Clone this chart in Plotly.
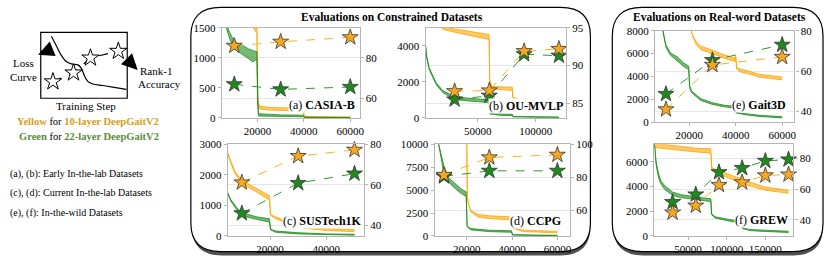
import plotly.graph_objects as go

W, H = 830, 261
FONT = "Liberation Serif"
ORANGE = "#FFA500"
GREEN = "#1a8c1a"
ORANGE_FILL = "rgba(255,165,0,0.6)"
GREEN_FILL = "rgba(26,140,26,0.6)"
STAR_OR = "#F7A823"
STAR_GR = "#1E8A1E"

# ---------------- data ----------------
# (a) CASIA-B
A_STAR_X = [10000, 30000, 60000]
A_ACC_10 = [85.8, 87.8, 90.0]
A_ACC_22 = [66.9, 64.4, 65.6]
A_G_X = [6600, 8000, 10000, 12000, 14000, 16000, 18000, 19800, 20000, 20400, 30000, 39800, 40200, 60000]
A_G_LO = [1500, 1320, 1150, 1090, 1040, 990, 930, 980, 300, 30, 25, 20, 5, 3]
A_G_HI = [1550, 1420, 1280, 1220, 1200, 1150, 1120, 1100, 300, 70, 50, 45, 12, 8]
A_Y_X = [15000, 19000, 19800, 20100, 21000, 25000, 30000, 35000, 39800, 40100, 45000, 60000]
A_Y_LO = [1700, 1450, 1400, 230, 150, 130, 125, 120, 115, 20, 12, 8]
A_Y_HI = [1700, 1600, 1560, 260, 200, 175, 170, 165, 160, 30, 20, 15]

# (b) OU-MVLP
B_STAR_X = [30000, 60000, 90000, 120000]
B_ACC_10 = [86.6, 86.7, 91.9, 92.2]
B_ACC_22 = [85.5, 86.0, 91.5, 91.3]
B_G_X = [5000, 6000, 8000, 10000, 14000, 20000, 30000, 40000, 50000, 59800, 60300, 70000, 79800, 80300, 100000, 120000]
B_G_LO = [4000, 3300, 2700, 2400, 1850, 1400, 1020, 950, 890, 850, 220, 140, 130, 60, 40, 30]
B_G_HI = [4000, 3400, 2800, 2500, 1950, 1500, 1200, 1100, 1060, 1000, 240, 230, 210, 80, 60, 45]
B_Y_X = [10000, 18000, 20000, 30000, 40000, 50000, 59800, 60300, 62000, 70000, 79800, 80300, 85000, 100000, 120000]
B_Y_LO = [5600, 5050, 4900, 4750, 4600, 4470, 4350, 2000, 1600, 1550, 1520, 1100, 950, 850, 780]
B_Y_HI = [5600, 5200, 5050, 4930, 4820, 4700, 4620, 2100, 1750, 1720, 1700, 1150, 1050, 960, 920]

# (c) SUSTech1K
C_STAR_X = [10000, 30000, 50000]
C_ACC_10 = [61.1, 74.2, 77.3]
C_ACC_22 = [45.8, 60.8, 65.5]
C_G_X = [5000, 6000, 8000, 10000, 15000, 19800, 20200, 22000, 30000, 40000, 50000]
C_G_LO = [1410, 1150, 880, 660, 550, 450, 200, 120, 65, 35, 25]
C_G_HI = [1410, 1200, 950, 760, 630, 560, 220, 160, 105, 65, 55]
C_Y_X = [5000, 6000, 7500, 10000, 15000, 19800, 20200, 22000, 25000, 29000, 30500, 32000, 40000, 50000]
C_Y_LO = [2720, 2400, 2050, 1720, 1450, 1170, 680, 560, 460, 360, 330, 250, 180, 140]
C_Y_HI = [2720, 2450, 2120, 1820, 1570, 1320, 700, 620, 520, 440, 420, 300, 240, 210]

# (d) CCPG
D_STAR_X = [10000, 30000, 60000]
D_ACC_10 = [81.5, 92.1, 93.7]
D_ACC_22 = [80.6, 84.0, 84.0]
D_G_X = [7500, 8500, 10000, 12000, 15000, 17500, 19800, 20200, 22000, 30000, 39800, 40200, 50000, 60000]
D_G_LO = [10200, 8900, 6800, 5900, 5150, 4650, 4300, 1000, 650, 470, 400, 100, 40, 20]
D_G_HI = [10200, 9200, 7600, 6350, 5650, 5150, 4800, 1050, 800, 620, 560, 130, 90, 70]
D_Y_X = [10000, 19900, 20050, 20300, 21000, 22000, 25000, 30000, 39800, 40200, 45000, 50000, 60000]
D_Y_LO = [14000, 12000, 10500, 4200, 3300, 2600, 2050, 1900, 1750, 850, 480, 420, 330]
D_Y_HI = [14000, 12000, 10500, 4200, 3300, 2750, 2350, 2200, 2080, 950, 620, 560, 500]

# (e) Gait3D
E_STAR_X = [10000, 30000, 60000]
E_ACC_10 = [41.1, 63.1, 67.1]
E_ACC_22 = [48.7, 65.5, 73.1]
E_G_X = [8500, 9500, 10000, 12000, 15000, 17500, 19800, 20200, 21000, 22000, 25000, 30000, 35000, 39800, 40200, 45000, 50000, 60000]
E_G_LO = [8200, 7100, 6550, 5850, 5300, 4900, 4600, 3000, 2600, 2400, 1900, 1550, 1350, 1220, 800, 620, 500, 370]
E_G_HI = [8200, 7300, 6750, 6050, 5700, 5200, 4900, 3200, 2750, 2550, 2050, 1700, 1480, 1390, 850, 720, 600, 470]
E_Y_X = [20500, 21500, 23000, 25000, 30000, 35000, 39700, 40000, 40400, 42000, 45000, 50000, 60000]
E_Y_LO = [8300, 7500, 6800, 6350, 6000, 5600, 5300, 5700, 4650, 4400, 4250, 3950, 3700]
E_Y_HI = [8300, 7600, 7050, 6650, 6300, 5900, 5600, 5900, 4800, 4650, 4500, 4200, 3950]

# (f) GREW
F_STAR_X = [30000, 60000, 90000, 120000, 150000, 180000]
F_ACC_10 = [44.8, 49.3, 62.8, 64.5, 69.0, 69.6]
F_ACC_22 = [51.6, 56.6, 71.1, 73.8, 78.5, 79.4]
F_G_X = [6500, 7500, 8500, 10000, 12000, 15000, 20000, 30000, 40000, 60000, 79500, 80500, 85000, 100000, 119500, 120500, 130000, 150000, 180000]
F_G_LO = [7500, 6500, 5900, 5300, 4700, 4200, 3750, 3300, 3100, 2950, 2780, 1720, 1450, 1250, 1000, 600, 430, 360, 280]
F_G_HI = [7500, 6700, 6100, 5600, 5000, 4450, 4050, 3550, 3350, 3150, 3000, 1800, 1550, 1370, 1150, 640, 520, 460, 380]
F_Y_X = [6500, 20000, 40000, 60000, 79500, 80500, 85000, 100000, 120000, 135000, 150000, 180000]
F_Y_LO = [7150, 7050, 6950, 6800, 6700, 5450, 5150, 4750, 4250, 3950, 3700, 3450]
F_Y_HI = [7450, 7400, 7250, 7100, 7050, 5550, 5400, 5050, 4600, 4250, 3950, 3700]

# tick values
A_XT, A_LT, A_RT = [20000, 40000, 60000], [0, 500, 1000, 1500], [60, 80]
B_XT, B_LT, B_RT = [50000, 100000], [0, 2000, 4000], [85, 90, 95]
C_XT, C_LT, C_RT = [20000, 40000], [0, 1000, 2000, 3000], [40, 60, 80]
D_XT, D_LT, D_RT = [20000, 40000, 60000], [0, 2500, 5000, 7500, 10000], [60, 80, 100]
E_XT, E_LT, E_RT = [20000, 40000, 60000], [0, 2000, 4000, 6000, 8000], [40, 60, 80]
F_XT, F_LT, F_RT = [50000, 100000, 150000], [0, 2000, 4000, 6000], [40, 60, 80]

LABELS = ["(a) <b>CASIA-B</b>", "(b) <b>OU-MVLP</b>", "(c) <b>SUSTech1K</b>",
          "(d) <b>CCPG</b>", "(e) <b>Gait3D</b>", "(f) <b>GREW</b>"]

# illustration (unitless box coordinates 0..100)
ILL_CURVE_X = [12.3, 18.0, 23.8, 29.5, 35.3, 42.9, 46.8, 50.6, 54.4, 60.1, 71.6, 83.1, 98.9]
ILL_CURVE_Y = [94.2, 79.7, 65.2, 55.7, 52.2, 50.7, 45.9, 33.9, 25.7, 21.7, 19.4, 17.0, 13.6]
ILL_STAR_X = [14.1, 37.9, 57.5, 89.7]
ILL_STAR_Y = [25.2, 38.7, 61.4, 71.6]

# ---------------- layout config (pixels) ----------------
PANELS = [
    dict(dom=(223.3, 361.7, 22.7, 117.3), xr=(4700, 64000), yl=(0, 1500.5), yr=(50.4, 94.75), lab=(358, 103.5),
         sx=A_STAR_X, a10=A_ACC_10, a22=A_ACC_22, g=(A_G_X, A_G_LO, A_G_HI), y=(A_Y_X, A_Y_LO, A_Y_HI), t=(A_XT, A_LT, A_RT)),
    dict(dom=(428.3, 569.3, 22.7, 117.3), xr=(5100, 126000), yl=(0, 5000), yr=(83.07, 95.02), lab=(567, 105),
         sx=B_STAR_X, a10=B_ACC_10, a22=B_ACC_22, g=(B_G_X, B_G_LO, B_G_HI), y=(B_Y_X, B_Y_LO, B_Y_HI), t=(B_XT, B_LT, B_RT)),
    dict(dom=(229.3, 366, 145, 241), xr=(5050, 53300), yl=(0, 3000.5), yr=(34.6, 80.05), lab=(365, 225),
         sx=C_STAR_X, a10=C_ACC_10, a22=C_ACC_22, g=(C_G_X, C_G_LO, C_G_HI), y=(C_Y_X, C_Y_LO, C_Y_HI), t=(C_XT, C_LT, C_RT)),
    dict(dom=(437.3, 573.3, 145, 241), xr=(5900, 65500), yl=(0, 10001), yr=(44.6, 100.05), lab=(565, 225),
         sx=D_STAR_X, a10=D_ACC_10, a22=D_ACC_22, g=(D_G_X, D_G_LO, D_G_HI), y=(D_Y_X, D_Y_LO, D_Y_HI), t=(D_XT, D_LT, D_RT)),
    dict(dom=(659, 799.3, 26, 121.7), xr=(5300, 65300), yl=(0, 8001), yr=(34.8, 80.05), lab=(792, 103.5),
         sx=E_STAR_X, a10=E_ACC_10, a22=E_ACC_22, g=(E_G_X, E_G_LO, E_G_HI), y=(E_Y_X, E_Y_LO, E_Y_HI), t=(E_XT, E_LT, E_RT)),
    dict(dom=(658.3, 798.3, 145, 241), xr=(6400, 186400), yl=(0, 7413), yr=(29.6, 89.3), lab=(794, 224),
         sx=F_STAR_X, a10=F_ACC_10, a22=F_ACC_22, g=(F_G_X, F_G_LO, F_G_HI), y=(F_Y_X, F_Y_LO, F_Y_HI), t=(F_XT, F_LT, F_RT)),
]

fig = go.Figure()
layout = dict(width=W, height=H, autosize=False, margin=dict(l=0, r=0, t=0, b=0),
              paper_bgcolor="white", plot_bgcolor="rgba(0,0,0,0)", showlegend=False,
              font=dict(family=FONT, size=11, color="black"))

AX_COMMON = dict(showline=True, linecolor="#b5b5b5", linewidth=1.3, ticks="outside", ticklen=3,
                 tickcolor="#b5b5b5", tickwidth=1, tickformat="d",
                 tickfont=dict(family=FONT, size=11, color="black"), zeroline=False)

annotations = []
for i, p in enumerate(PANELS, start=1):
    x0, x1, y0, y1 = p["dom"]
    xa, yl, yr = f"x{i}", f"y{2*i-1}", f"y{2*i}"
    xt, lt, rt = p["t"]
    layout[f"xaxis{i}"] = dict(AX_COMMON, domain=[x0 / W, x1 / W], range=list(p["xr"]), anchor=yl,
                               mirror=True, showgrid=False, tickvals=xt)
    layout[f"yaxis{2*i-1}"] = dict(AX_COMMON, domain=[1 - y1 / H, 1 - y0 / H], range=list(p["yl"]), anchor=xa,
                                   showgrid=False, tickvals=lt)
    layout[f"yaxis{2*i}"] = dict(AX_COMMON, range=list(p["yr"]), anchor=xa, overlaying=yl, side="right",
                                 showgrid=True, gridcolor="#e6e6e6", gridwidth=0.8, tickvals=rt)
    # loss curves (band = lo..hi filled)
    for (lx, llo, lhi), col, fcol in ((p["y"], ORANGE, ORANGE_FILL), (p["g"], GREEN, GREEN_FILL)):
        fig.add_trace(go.Scatter(x=lx, y=lhi, mode="lines", line=dict(color=col, width=0.8),
                                 xaxis=xa, yaxis=yl, hoverinfo="skip"))
        fig.add_trace(go.Scatter(x=lx, y=llo, mode="lines", line=dict(color=col, width=0.8),
                                 fill="tonexty", fillcolor=fcol, xaxis=xa, yaxis=yl, hoverinfo="skip"))
    # accuracy stars
    for acc, col, scol in ((p["a22"], "#2e9a2e", STAR_GR), (p["a10"], "#FFB020", STAR_OR)):
        fig.add_trace(go.Scatter(x=p["sx"], y=acc, mode="lines+markers",
                                 line=dict(color=col, width=1, dash="dash"),
                                 marker=dict(symbol="star", size=12, color=scol,
                                             line=dict(color="#333333", width=0.8)),
                                 xaxis=xa, yaxis=yr, cliponaxis=False))
    lx_, ly_ = p["lab"]
    annotations.append(dict(text=LABELS[i - 1], x=lx_ / W, y=1 - ly_ / H, xref="paper", yref="paper",
                            xanchor="right", yanchor="middle", showarrow=False, bgcolor="white",
                            borderpad=0, font=dict(family=FONT, size=12, color="black")))

# illustration axis
IL = dict(x0=41, x1=128, y0=27.7, y1=96.7)
layout["xaxis7"] = dict(domain=[IL["x0"] / W, IL["x1"] / W], range=[0, 100], visible=False, anchor="y13")
layout["yaxis13"] = dict(domain=[1 - IL["y1"] / H, 1 - IL["y0"] / H], range=[0, 100], visible=False, anchor="x7")
fig.add_trace(go.Scatter(x=ILL_CURVE_X, y=ILL_CURVE_Y, mode="lines", line=dict(color="black", width=1.2, shape="spline"),
                         xaxis="x7", yaxis="y13"))
fig.add_trace(go.Scatter(x=ILL_STAR_X, y=ILL_STAR_Y, mode="lines+markers",
                         line=dict(color="black", width=1.2, dash="dash"),
                         marker=dict(symbol="star", size=13, color="white", line=dict(color="black", width=1)),
                         xaxis="x7", yaxis="y13", cliponaxis=False))


def P(x, y):
    return x / W, 1 - y / H


def rrect(x0, y0, x1, y1, r):
    def f(x, y):
        a, b = P(x, y)
        return f"{a:.5f},{b:.5f}"
    return (f"M{f(x0 + r, y0)} L{f(x1 - r, y0)} Q{f(x1, y0)} {f(x1, y0 + r)} "
            f"L{f(x1, y1 - r)} Q{f(x1, y1)} {f(x1 - r, y1)} L{f(x0 + r, y1)} "
            f"Q{f(x0, y1)} {f(x0, y1 - r)} L{f(x0, y0 + r)} Q{f(x0, y0)} {f(x0 + r, y0)} Z")


shapes = []
for (fx0, fy0, fx1, fy1) in ((192, 1.5, 594, 257.5), (616, 1.5, 828, 257.5)):
    shapes.append(dict(type="path", path=rrect(fx0 + 1, fy0 + 4, fx1, fy1 + 4, 30), xref="paper", yref="paper",
                       fillcolor="#505050", line=dict(width=0), layer="below"))
    shapes.append(dict(type="path", path=rrect(fx0, fy0, fx1, fy1, 30), xref="paper", yref="paper",
                       fillcolor="white", line=dict(color="black", width=1.2), layer="below"))
bx0, by0 = P(IL["x0"], IL["y0"])
bx1, by1 = P(IL["x1"], IL["y1"])
shapes.append(dict(type="rect", x0=bx0, y0=by1, x1=bx1, y1=by0, xref="paper", yref="paper",
                   line=dict(color="black", width=1.2), layer="above"))
layout["shapes"] = shapes


def txt(s, x, y, size=11, anchor="center", color="black"):
    a, b = P(x, y)
    return dict(text=s, x=a, y=b, xref="paper", yref="paper", xanchor=anchor, yanchor="middle",
                showarrow=False, font=dict(family=FONT, size=size, color=color))


YEL_T = "#D4A017"
GRN_T = "#5B8C3A"
annotations += [
    txt("<b>Evaluations on Constrained Datasets</b>", 394, 11.5, 11.5),
    txt("<b>Evaluations on Real-word Datasets</b>", 724, 12, 11.5),
    txt("Loss", 23.3, 60, 11), txt("Curve", 23.7, 74, 11),
    txt("Rank-1", 156.7, 68.3, 11), txt("Accuracy", 160, 81.7, 11),
    txt("Training Step", 86.7, 105, 11),
    txt(f"<b><span style='color:{YEL_T}'>Yellow</span></b> for <b><span style='color:{YEL_T}'>10-layer DeepGaitV2</span></b>", 89, 121, 10.5),
    txt(f"<b><span style='color:{GRN_T}'>Green</span></b> for <b><span style='color:{GRN_T}'>22-layer DeepGaitV2</span></b>", 89.5, 136.7, 10.5),
    txt("(a), (b): Early In-the-lab Datasets", 8.3, 175.7, 10, "left"),
    txt("(c), (d): Current In-the-lab Datasets", 8.3, 196, 10, "left"),
    txt("(e), (f): In-the-wild Datasets", 8.3, 216.7, 10, "left"),
]
# arrows
for (hx, hy, tx, ty) in ((38.3, 51, 52, 45.5), (138.5, 67, 128.5, 57)):
    a, b = P(hx, hy)
    annotations.append(dict(text="", x=a, y=b, xref="paper", yref="paper", showarrow=True,
                            ax=tx - hx, ay=ty - hy, arrowhead=2, arrowsize=0.7, arrowwidth=4.5,
                            arrowcolor="black", standoff=0, startstandoff=0))
layout["annotations"] = annotations

fig.update_layout(**layout)
fig.write_html("out.html", config={"displayModeBar": False},
               post_script="document.body.style.margin='0';document.body.style.overflow='hidden';")
